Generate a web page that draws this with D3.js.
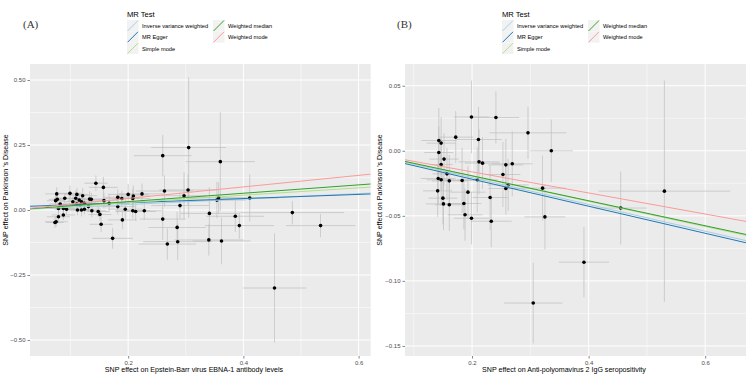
<!DOCTYPE html>
<html><head><meta charset="utf-8">
<script src="https://cdn.jsdelivr.net/npm/d3@7"></script>
<style>body{margin:0;background:#fff}svg{display:block}</style>
</head><body><svg id="c" width="750" height="377"></svg>
<script>
// ---------- DATA ----------
const methods = ["Inverse variance weighted","MR Egger","Simple mode","Weighted median","Weighted mode"];
const methodColors = ["#a6cee3","#1f78b4","#b2df8a","#33a02c","#fb9a99"];
// panel A: [bx, by, se_x, se_y]
const snpsA = [
 [0.144,0.103,0.02,0.03],[0.157,0.087,0.025,0.04],[0.076,0.062,0.02,0.025],[0.099,0.064,0.02,0.03],
 [0.111,0.060,0.02,0.025],[0.121,0.055,0.025,0.03],[0.074,0.036,0.015,0.02],[0.077,0.041,0.015,0.02],
 [0.090,0.045,0.02,0.02],[0.082,0.023,0.02,0.025],[0.104,0.032,0.02,0.02],[0.109,0.045,0.02,0.03],
 [0.115,0.038,0.02,0.025],[0.119,0.032,0.025,0.02],[0.133,0.042,0.025,0.03],[0.136,0.041,0.02,0.025],
 [0.111,0.023,0.02,0.025],[0.117,0.019,0.02,0.02],[0.124,0.026,0.02,0.02],[0.131,0.013,0.02,0.02],
 [0.079,0.006,0.015,0.02],[0.0875,0.006,0.02,0.02],[0.093,0.003,0.02,0.02],[0.112,0.000,0.02,0.02],
 [0.119,0.000,0.02,0.025],[0.124,0.003,0.025,0.02],[0.137,-0.003,0.025,0.025],[0.148,-0.006,0.02,0.02],
 [0.151,-0.017,0.02,0.025],[0.079,-0.026,0.02,0.025],[0.0875,-0.019,0.02,0.02],[0.075,-0.045,0.02,0.02],
 [0.073,-0.048,0.015,0.02],[0.153,-0.055,0.02,0.03],[0.173,-0.109,0.035,0.04],[0.158,0.036,0.025,0.03],
 [0.167,0.026,0.025,0.03],[0.182,0.049,0.025,0.03],[0.189,0.044,0.03,0.03],[0.182,0.013,0.03,0.03],
 [0.200,0.060,0.035,0.04],[0.209,0.054,0.03,0.04],[0.208,0.044,0.03,0.035],[0.224,0.062,0.04,0.04],
 [0.195,0.003,0.03,0.04],[0.208,-0.003,0.03,0.03],[0.213,-0.006,0.035,0.035],[0.228,-0.003,0.03,0.035],
 [0.190,-0.038,0.025,0.035],[0.263,0.073,0.05,0.06],[0.304,0.077,0.05,0.06],[0.297,0.055,0.04,0.09],
 [0.290,0.017,0.05,0.05],[0.260,-0.035,0.04,0.08],[0.285,-0.067,0.05,0.06],[0.286,-0.122,0.06,0.07],
 [0.268,-0.131,0.05,0.06],[0.260,0.209,0.05,0.08],[0.305,0.240,0.065,0.27],[0.360,0.186,0.06,0.19],
 [0.357,0.047,0.05,0.06],[0.354,0.038,0.05,0.07],[0.411,0.046,0.05,0.09],[0.341,-0.013,0.05,0.10],
 [0.386,-0.024,0.05,0.06],[0.393,-0.060,0.06,0.05],[0.485,-0.010,0.09,0.045],[0.534,-0.060,0.06,0.045],
 [0.340,-0.115,0.06,0.06],[0.362,-0.119,0.05,0.09],[0.454,-0.300,0.055,0.21]
];
// panel B: [bx, by, se_x, se_y]
const snpsB = [
 [0.199,0.026,0.03,0.028],[0.241,0.0256,0.04,0.02],[0.296,0.0138,0.066,0.02],[0.172,0.0105,0.03,0.02],
 [0.143,0.0079,0.03,0.025],[0.147,0.0059,0.025,0.02],[0.211,0.0087,0.04,0.025],[0.336,0.000,0.037,0.024],
 [0.143,-0.0013,0.025,0.02],[0.152,-0.0064,0.025,0.02],[0.212,-0.0085,0.035,0.025],[0.218,-0.0095,0.03,0.02],
 [0.147,-0.0105,0.02,0.02],[0.258,-0.0108,0.03,0.02],[0.269,-0.010,0.035,0.025],[0.157,-0.0177,0.025,0.02],
 [0.253,-0.0182,0.03,0.025],[0.142,-0.0213,0.03,0.02],[0.147,-0.0223,0.025,0.02],[0.161,-0.0231,0.03,0.02],
 [0.183,-0.0228,0.03,0.025],[0.209,-0.0223,0.035,0.025],[0.262,-0.0262,0.035,0.02],[0.258,-0.029,0.03,0.02],
 [0.321,-0.0287,0.04,0.025],[0.141,-0.0308,0.025,0.02],[0.193,-0.0318,0.03,0.02],[0.150,-0.0364,0.025,0.02],
 [0.231,-0.0359,0.03,0.025],[0.151,-0.0408,0.03,0.02],[0.161,-0.0415,0.025,0.02],[0.186,-0.0405,0.03,0.02],
 [0.188,-0.0492,0.03,0.02],[0.199,-0.0518,0.03,0.02],[0.325,-0.0508,0.035,0.025],[0.233,-0.0541,0.035,0.02],
 [0.305,-0.117,0.05,0.031],[0.530,-0.031,0.113,0.085],[0.455,-0.044,0.045,0.028],[0.392,-0.0856,0.043,0.027]
];
// regression lines (same order as methods)
const interceptA = [0, 0.012, 0, 0, 0];
const slopeA     = [0.105, 0.080, 0.142, 0.161, 0.222];
const interceptB = [0, -0.001, 0, 0, 0];
const slopeB     = [-0.103, -0.104, -0.097, -0.096, -0.081];
const xDomainA = [0.0296, 0.621], yDomainA = [-0.5615, 0.5615];
const xDomainB = [0.085, 0.670],  yDomainB = [-0.1577, 0.0667];
const xTicksA = [0.2, 0.4, 0.6], xMinorA = [0.1, 0.3, 0.5];
const yTicksA = [-0.5, -0.25, 0, 0.25, 0.5], yMinorA = [-0.375, -0.125, 0.125, 0.375];
const yLabelsA = ["\u22120.50","\u22120.25","0.00","0.25","0.50"];
const xTicksB = [0.2, 0.4, 0.6], xMinorB = [0.1, 0.3, 0.5];
const yTicksB = [-0.15, -0.10, -0.05, 0, 0.05], yMinorB = [-0.125, -0.075, -0.025, 0.025];
const yLabelsB = ["\u22120.15","\u22120.10","\u22120.05","0.00","0.05"];
const xTitleA = "SNP effect on Epstein-Barr virus EBNA-1 antibody levels";
const xTitleB = "SNP effect on Anti-polyomavirus 2 IgG seropositivity";
const yTitle = "SNP effect on Parkinson 's Disease";

// ---------- DRAW ----------
const svg = d3.select("#c");
const SANS = "'Liberation Sans', Arial, Helvetica, sans-serif";

function panel(cfg){
  const g = svg.append("g");
  const x = d3.scaleLinear().domain(cfg.xDomain).range([cfg.left, cfg.right]);
  const y = d3.scaleLinear().domain(cfg.yDomain).range([cfg.bottom, cfg.top]);
  const clipId = "clip" + cfg.id;
  svg.append("clipPath").attr("id", clipId).append("rect")
    .attr("x", cfg.left).attr("y", cfg.top).attr("width", cfg.right-cfg.left).attr("height", cfg.bottom-cfg.top);
  g.append("rect").attr("x", cfg.left).attr("y", cfg.top).attr("width", cfg.right-cfg.left)
    .attr("height", cfg.bottom-cfg.top).attr("fill", "#ebebeb");
  // grid
  const grid = g.append("g").attr("stroke", "#fff");
  grid.selectAll(".xm").data(cfg.xMinor).join("line").attr("x1", d=>x(d)).attr("x2", d=>x(d))
    .attr("y1", cfg.top).attr("y2", cfg.bottom).attr("stroke-width", 0.5);
  grid.selectAll(".ym").data(cfg.yMinor).join("line").attr("y1", d=>y(d)).attr("y2", d=>y(d))
    .attr("x1", cfg.left).attr("x2", cfg.right).attr("stroke-width", 0.5);
  grid.selectAll(".xM").data(cfg.xTicks).join("line").attr("x1", d=>x(d)).attr("x2", d=>x(d))
    .attr("y1", cfg.top).attr("y2", cfg.bottom).attr("stroke-width", 1);
  grid.selectAll(".yM").data(cfg.yTicks).join("line").attr("y1", d=>y(d)).attr("y2", d=>y(d))
    .attr("x1", cfg.left).attr("x2", cfg.right).attr("stroke-width", 1);

  const plot = g.append("g").attr("clip-path", `url(#${clipId})`);
  // error bars
  plot.selectAll(".ev").data(cfg.snps).join("line")
    .attr("x1", d=>x(d[0])).attr("x2", d=>x(d[0]))
    .attr("y1", d=>y(d[1]-d[3])).attr("y2", d=>y(d[1]+d[3]))
    .attr("stroke", "#bebebe").attr("stroke-width", 0.8).attr("opacity", 0.85);
  plot.selectAll(".eh").data(cfg.snps).join("line")
    .attr("y1", d=>y(d[1])).attr("y2", d=>y(d[1]))
    .attr("x1", d=>x(d[0]-d[2])).attr("x2", d=>x(d[0]+d[2]))
    .attr("stroke", "#bebebe").attr("stroke-width", 0.8).attr("opacity", 0.85);
  // points
  plot.selectAll(".pt").data(cfg.snps).join("circle")
    .attr("cx", d=>x(d[0])).attr("cy", d=>y(d[1])).attr("r", 1.8).attr("fill", "#000");
  // lines
  const lines = methods.map((m,i)=>({m, a:cfg.intercept[i], b:cfg.slope[i], c:methodColors[i]}));
  plot.selectAll(".ab").data(lines).join("line")
    .attr("x1", x(cfg.xDomain[0])).attr("x2", x(cfg.xDomain[1]))
    .attr("y1", d=>y(d.a + d.b*cfg.xDomain[0])).attr("y2", d=>y(d.a + d.b*cfg.xDomain[1]))
    .attr("stroke", d=>d.c).attr("stroke-width", 1);

  // axes
  const xa = g.append("g").attr("transform", `translate(0,${cfg.bottom})`)
    .call(d3.axisBottom(x).tickValues(cfg.xTicks).tickSize(2.5).tickPadding(2).tickFormat(d3.format(".1f")));
  const ya = g.append("g").attr("transform", `translate(${cfg.left},0)`)
    .call(d3.axisLeft(y).tickValues(cfg.yTicks).tickSize(2.5).tickPadding(2).tickFormat((d,i)=>cfg.yLabels[i]));
  [xa, ya].forEach(a=>{
    a.select(".domain").remove();
    a.selectAll("line").attr("stroke", "#333").attr("stroke-width", 0.6);
    a.selectAll("text").attr("fill", "#4d4d4d").style("font-family", SANS).style("font-size", "6px");
  });
  // titles
  g.append("text").attr("x", cfg.xTitleX).attr("y", 372).attr("text-anchor", "middle")
    .style("font-family", SANS).style("font-size", "7.1px").attr("fill", "#000").text(cfg.xTitle);
  g.append("text").attr("transform", `translate(${cfg.yTitleX},${cfg.yTitleY}) rotate(-90)`)
    .attr("text-anchor", "middle").style("font-family", SANS).style("font-size", "7.1px")
    .attr("fill", "#000").text(yTitle);
  // panel tag
  g.append("text").attr("x", cfg.tagX).attr("y", 28).style("font-family", "'Liberation Serif', 'Times New Roman', serif")
    .style("font-size", "11px").attr("fill", "#333").text(cfg.tag);
  // legend
  const lg = g.append("g").attr("transform", `translate(${cfg.legX},0)`);
  lg.append("text").attr("x", 0).attr("y", 17).style("font-family", SANS).style("font-size", "7.6px").attr("fill", "#000").text("MR Test");
  const cols = [[0,1,2],[3,4]];
  cols.forEach((col, ci)=>{
    col.forEach((mi, ri)=>{
      const kx = ci*86, ky = 20 + ri*11.3;
      lg.append("rect").attr("x", kx).attr("y", ky).attr("width", 11.5).attr("height", 11.3).attr("fill", "#f2f2f2");
      lg.append("line").attr("x1", kx+0.5).attr("y1", ky+11).attr("x2", kx+11).attr("y2", ky+0.5)
        .attr("stroke", methodColors[mi]).attr("stroke-width", 1);
      lg.append("text").attr("x", kx+15).attr("y", ky+8).style("font-family", SANS).style("font-size", "5.7px")
        .attr("fill", "#000").text(methods[mi]);
    });
  });
}

panel({id:"A", left:30, right:370.7, top:64, bottom:356, xDomain:xDomainA, yDomain:yDomainA,
  xTicks:xTicksA, xMinor:xMinorA, yTicks:yTicksA, yMinor:yMinorA, yLabels:yLabelsA, snps:snpsA,
  intercept:interceptA, slope:slopeA, xTitle:xTitleA, xTitleX:194, yTitleX:8, yTitleY:190,
  tag:"(A)", tagX:23, legX:127});
panel({id:"B", left:405, right:746, top:64, bottom:356, xDomain:xDomainB, yDomain:yDomainB,
  xTicks:xTicksB, xMinor:xMinorB, yTicks:yTicksB, yMinor:yMinorB, yLabels:yLabelsB, snps:snpsB,
  intercept:interceptB, slope:slopeB, xTitle:xTitleB, xTitleX:564, yTitleX:382, yTitleY:190,
  tag:"(B)", tagX:397, legX:502});
</script></body></html>
